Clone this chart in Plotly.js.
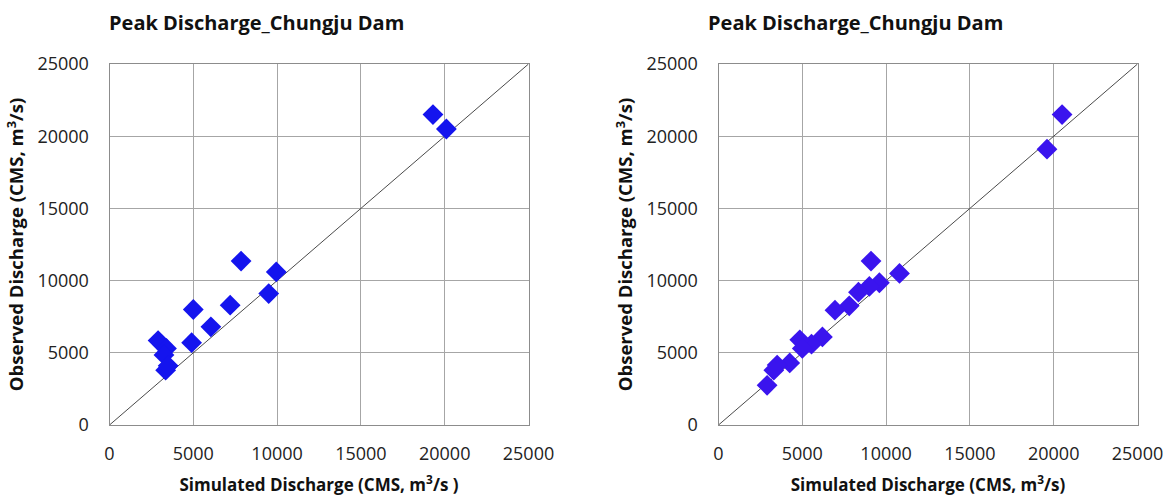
<!DOCTYPE html>
<html>
<head>
<meta charset="utf-8">
<script src="https://cdn.plot.ly/plotly-3.0.1.min.js"></script>
<style>html,body{margin:0;padding:0;background:#fff;}#chart{width:1168px;height:500px;}</style>
</head>
<body>
<div id="chart"></div>
<script>
// Left panel: simulated vs observed peak discharge (m3/s)
const leftSim = [19300, 20100, 7850, 9950, 9500, 7200, 5000, 6050, 4900, 2900, 3400, 3250, 3350, 3500];
const leftObs = [21500, 20500, 11350, 10600, 9100, 8300, 8000, 6800, 5700, 5850, 5300, 4850, 3800, 4100];
// Right panel
const rightSim = [20500, 19600, 9100, 10800, 9600, 9000, 8350, 7800, 6950, 6200, 5550, 4850, 5000, 4250, 3500, 3300, 2900];
const rightObs = [21500, 19100, 11350, 10500, 9850, 9600, 9200, 8250, 7950, 6100, 5600, 5900, 5300, 4300, 4150, 3800, 2750];
// 1:1 reference line
const lineX = [0, 25000];
const lineY = [0, 25000];
const tickVals = [0, 5000, 10000, 15000, 20000, 25000];
const tickText = ['0', '5000', '10000', '15000', '20000', '25000'];
const panelTitle = 'Peak Discharge_Chungju Dam';
const xTitleLeft = 'Simulated Discharge (CMS, m<sup>3</sup>/s )';
const xTitleRight = 'Simulated Discharge (CMS, m<sup>3</sup>/s)';
const yTitle = 'Observed Discharge (CMS, m<sup>3</sup>/s)';

const W = 1168, H = 500;
const tickFont = {family: 'Open Sans, sans-serif', size: 18, color: '#222'};
const xTitleFont = {family: 'Open Sans, sans-serif', size: 17, color: '#111', weight: 'bold'};
const yTitleFont = {family: 'Open Sans, sans-serif', size: 18.5, color: '#111', weight: 'bold'};

function xAxis(domain, title, anchor) {
  return {
    domain: domain, anchor: anchor, range: [0, 25000],
    tickvals: tickVals, ticktext: tickText, tickfont: tickFont,
    ticks: '', ticklabelstandoff: 12,
    showgrid: true, gridcolor: '#a6a6a6', gridwidth: 1,
    showline: true, linecolor: '#8c8c8c', linewidth: 1, mirror: true,
    zeroline: false, fixedrange: true,
    title: {text: title, font: xTitleFont, standoff: 15}
  };
}
function yAxis(domain, anchor) {
  return {
    domain: domain, anchor: anchor, range: [0, 25000],
    tickvals: tickVals, ticktext: tickText, tickfont: tickFont,
    ticks: '', ticklabelstandoff: 16,
    showgrid: true, gridcolor: '#a6a6a6', gridwidth: 1,
    showline: true, linecolor: '#8c8c8c', linewidth: 1, mirror: true,
    zeroline: false, fixedrange: true,
    title: {text: yTitle, font: yTitleFont, standoff: 8}
  };
}

const traces = [
  {x: lineX, y: lineY, xaxis: 'x', yaxis: 'y', mode: 'lines', line: {color: '#4a4a4a', width: 1}, hoverinfo: 'skip'},
  {x: leftSim, y: leftObs, xaxis: 'x', yaxis: 'y', mode: 'markers', marker: {symbol: 'diamond', size: 16, color: '#1414ee'}},
  {x: lineX, y: lineY, xaxis: 'x2', yaxis: 'y2', mode: 'lines', line: {color: '#4a4a4a', width: 1}, hoverinfo: 'skip'},
  {x: rightSim, y: rightObs, xaxis: 'x2', yaxis: 'y2', mode: 'markers', marker: {symbol: 'diamond', size: 16, color: '#3a14ee'}}
];

const yDom = [(H - 425) / H, (H - 64) / H];
const layout = {
  width: W, height: H,
  margin: {l: 0, r: 0, t: 0, b: 0},
  paper_bgcolor: '#fff', plot_bgcolor: '#fff',
  showlegend: false,
  xaxis: xAxis([109.5 / W, 528.5 / W], xTitleLeft, 'y'),
  yaxis: yAxis(yDom, 'x'),
  xaxis2: xAxis([718.5 / W, 1137.5 / W], xTitleRight, 'y2'),
  yaxis2: yAxis(yDom, 'x2'),
  annotations: [
    {text: panelTitle, xref: 'paper', yref: 'paper', x: 256 / W, y: 1 - 22 / H, xanchor: 'center', yanchor: 'middle', showarrow: false,
     font: {family: 'Open Sans, sans-serif', size: 20, color: '#111', weight: 'bold'}},
    {text: panelTitle, xref: 'paper', yref: 'paper', x: 855 / W, y: 1 - 22 / H, xanchor: 'center', yanchor: 'middle', showarrow: false,
     font: {family: 'Open Sans, sans-serif', size: 20, color: '#111', weight: 'bold'}}
  ]
};
Plotly.newPlot('chart', traces, layout, {displayModeBar: false, staticPlot: true});
</script>
</body>
</html>
